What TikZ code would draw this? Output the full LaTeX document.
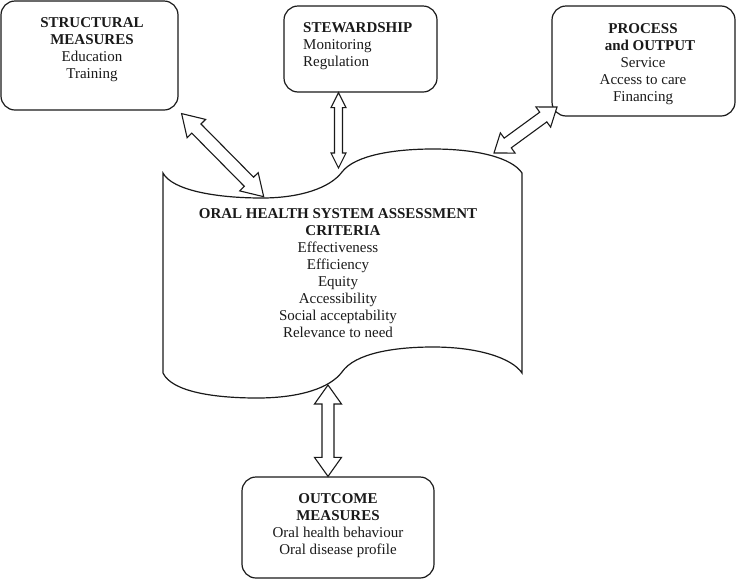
\documentclass[tikz,border=0pt]{standalone}
\usepackage{fontspec}
\setmainfont{Liberation Serif}
\usepackage{xcolor}
\definecolor{InkBlack}{HTML}{1A1A1A}
\usepackage{tikz}
\usetikzlibrary{calc}
\tikzset{
  % Box styles
  areabox/.style={rectangle, rounded corners=14pt, draw=InkBlack, line width=1.2pt, fill=white, inner sep=0pt},
  boxtext/.style={font=\fontsize{15}{17}\selectfont, align=center, inner sep=0pt, text=InkBlack},
  % Arrow styles
  blockarrow/.style={draw=InkBlack, line width=1.1pt, fill=white, line join=miter},
  % Shape styles
  wavesheet/.style={draw=InkBlack, line width=1.2pt, fill=white}
}
% hollow two-headed arrow: from, to, head half width, shaft half width, head length
\newcommand{\twoway}[5]{%
  \draw[blockarrow] let \p1=($(#2)-(#1)$), \n1={atan2(\y1,\x1)}, \n2={veclen(\x1,\y1)} in
    [shift={(#1)}, rotate=\n1]
    (0pt,0pt) -- (#5pt,#3pt) -- (#5pt,#4pt) -- ({\n2*1pt-#5pt},#4pt) -- ({\n2*1pt-#5pt},#3pt)
    -- ({\n2*1pt},0pt) -- ({\n2*1pt-#5pt},-#3pt) -- ({\n2*1pt-#5pt},-#4pt) -- (#5pt,-#4pt)
    -- (#5pt,-#3pt) -- cycle;}

\begin{document}
\begin{tikzpicture}[x=1pt, y=-1pt]
  \useasboundingbox (0,0) rectangle (736,579);

  % Structural measures
  \node[areabox, minimum width=177pt, minimum height=109pt] (sm) at (89.5,55.5) {};
  \node[boxtext, anchor=north] (smtext) at (92,17) {\textbf{STRUCTURAL}\\ \textbf{MEASURES}\\ Education\\ Training};

  % Stewardship
  \node[areabox, minimum width=153pt, minimum height=86pt] (sw) at (360.5,49) {};
  \node[boxtext, align=left, anchor=north west] (swtext) at (303,22) {\textbf{STEWARDSHIP}\\ Monitoring\\ Regulation};

  % Process and output
  \node[areabox, minimum width=183pt, minimum height=110pt] (po) at (643.5,61) {};
  \node[boxtext, anchor=north] (potext) at (643,23) {\textbf{PROCESS}\\ \hspace*{14pt}\textbf{and OUTPUT}\\ Service\\ Access to care\\ Financing};

  % Outcome measures
  \node[areabox, minimum width=192pt, minimum height=101pt] (om) at (338,527.5) {};
  \node[boxtext, anchor=north] (omtext) at (338,493) {\textbf{OUTCOME}\\ \textbf{MEASURES}\\ Oral health behaviour\\ Oral disease profile};

  % Assessment criteria sheet
  \draw[wavesheet] (163,173) .. controls (172,190) and (215,198) .. (262,198)
    .. controls (300,198) and (330,188) .. (342,172)
    .. controls (355,155) and (395,149) .. (433,149)
    .. controls (478,149) and (512,158) .. (522,173)
    -- (522,373) .. controls (512,358) and (478,347) .. (433,347)
    .. controls (395,347) and (355,353) .. (342,372)
    .. controls (330,388) and (300,398) .. (257,398)
    .. controls (215,398) and (172,392) .. (163,373) -- cycle;
  \node[boxtext, anchor=north] (crit) at (338,208) {\textbf{ORAL HEALTH SYSTEM ASSESSMENT}\\ \hspace*{10pt}\textbf{CRITERIA}\\ Effectiveness\\ Efficiency\\ Equity\\ Accessibility\\ Social acceptability\\ Relevance to need};

  % Arrow ends
  \coordinate (smTip) at ($(sm.south east)+(3,3)$);
  \coordinate (smWave) at (264,197);
  \coordinate (swWave) at (338.5,168);
  \coordinate (swTip) at (sw.south -| swWave);
  \coordinate (poTip) at (557,107);
  \coordinate (poWave) at (494,153);
  \coordinate (omWave) at (328,385);
  \coordinate (omTip) at (om.north -| omWave);

  % Links
  \twoway{smTip}{smWave}{13}{6.5}{21}
  \twoway{swTip}{swWave}{7.5}{4}{15}
  \twoway{poWave}{poTip}{12.5}{6}{17}
  \twoway{omWave}{omTip}{13.5}{6}{19}
\end{tikzpicture}
\end{document}
